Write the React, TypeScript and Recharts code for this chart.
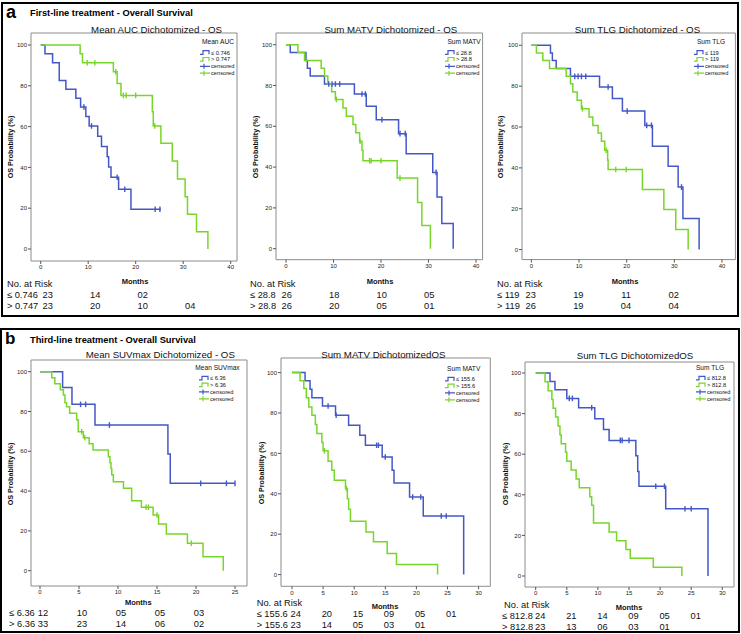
import React from 'react';
import { ComposedChart, Line, Scatter, XAxis, YAxis, ReferenceArea } from 'recharts';

const BLUE = '#4457c6';
const GREEN = '#78d62a';
const FONT = '"Liberation Sans", Arial, sans-serif';

// ---- panel a: first-line treatment (months, survival %) ----
const p1Low = [[0, 100], [0.9, 95.7], [2.5, 91.3], [3.9, 82.6], [5.3, 78.3], [7.4, 73.9], [8.4, 69.6], [9.5, 64.9], [10.2, 60.3], [12.0, 55.3], [12.8, 50.2], [14.0, 45.2], [14.3, 40.2], [14.8, 35.2], [16.4, 29.3], [19.0, 19.5], [25.3, 19.5]];
const p1LowCens = [9.1, 10.7, 16.1, 17.7, 24.1, 25.1];
const p1High = [[0, 100], [8.3, 95.7], [8.8, 91.3], [15.3, 86.9], [16.1, 81.1], [16.9, 75.3], [23.5, 67.3], [23.7, 60.3], [25.3, 51.8], [27.7, 43.1], [28.8, 34.3], [30.4, 25.6], [30.9, 17.0], [32.8, 8.5], [35.2, 0]];
const p1HighCens = [9.8, 11.4, 15.8, 17.4, 18.0, 20.0, 24.0];

const p2Low = [[0, 100], [0.9, 96.2], [4.2, 92.3], [4.5, 88.5], [5.1, 84.6], [8.1, 80.7], [14.4, 75.8], [16.9, 69.8], [19.0, 63.2], [23.7, 56.4], [25.3, 46.6], [30.9, 37.4], [31.8, 25.3], [32.8, 12.3], [35.2, 0]];
const p2LowCens = [9.0, 9.7, 10.4, 11.3, 16.0, 16.7, 20.2, 24.0, 25.1, 31.6];
const p2High = [[0, 100], [2.5, 96.2], [3.9, 92.3], [7.4, 88.5], [8.1, 84.6], [8.8, 80.8], [9.6, 76.9], [10.4, 73.1], [12.0, 69.0], [12.7, 64.9], [14.1, 60.9], [14.7, 56.8], [15.5, 52.7], [16.0, 48.2], [16.2, 43.1], [23.4, 34.6], [27.7, 22.7], [28.6, 11.4], [30.4, 0]];
const p2HighCens = [10.6, 15.6, 17.6, 17.9, 20.0, 24.0];

const p3Low = [[0, 100], [4.0, 96.2], [4.4, 92.5], [5.2, 88.6], [8.2, 84.8], [14.3, 79.6], [17.0, 73.9], [19.1, 67.8], [23.8, 60.8], [25.4, 50.6], [28.7, 40.8], [30.8, 30.6], [31.8, 15.2], [35.2, 0]];
const p3LowCens = [9.1, 9.8, 10.5, 11.4, 16.1, 20.1, 24.2, 25.2, 31.5];
const p3High = [[0, 100], [1.05, 96.2], [2.4, 92.5], [3.8, 88.6], [7.3, 84.8], [8.2, 81.2], [8.7, 77.2], [9.6, 73.1], [10.5, 69.0], [12.1, 64.9], [12.9, 60.8], [14.0, 57.1], [14.7, 53.0], [15.4, 48.6], [16.0, 43.9], [16.1, 39.2], [23.3, 29.4], [27.8, 19.6], [30.3, 9.8], [32.9, 0]];
const p3HighCens = [10.7, 15.7, 17.7, 19.9];

// ---- panel b: third-line treatment ----
const p4Low = [[0, 100], [2.9, 92.0], [4.1, 83.6], [7.05, 73.2], [16.4, 58.6], [16.7, 43.9], [25.0, 43.9]];
const p4LowCens = [5.2, 5.85, 8.9, 20.6, 23.9, 25.0];
const p4High = [[0, 100], [1.5, 97.0], [1.9, 93.9], [2.6, 90.9], [3.0, 88.3], [3.2, 84.4], [3.4, 82.4], [3.8, 79.1], [4.7, 75.8], [4.9, 69.8], [5.56, 66.8], [6.3, 63.8], [6.8, 60.7], [8.76, 57.3], [8.97, 54.3], [9.1, 51.3], [9.2, 48.2], [9.4, 44.7], [10.7, 41.4], [11.75, 35.2], [13.0, 31.9], [14.5, 28.0], [15.2, 23.5], [16.2, 18.4], [18.9, 13.8], [20.9, 7.0], [23.5, 0]];
const p4HighCens = [5.35, 5.75, 13.6, 13.9, 15.0, 19.4];

const p5Low = [[0, 100], [2.1, 96.0], [2.9, 91.8], [3.2, 87.6], [4.9, 83.5], [7.0, 78.9], [9.1, 73.9], [10.9, 69.0], [11.8, 64.0], [14.5, 58.2], [16.1, 51.6], [16.4, 45.3], [18.9, 38.4], [21.1, 29.0], [27.6, 0]];
const p5LowCens = [5.8, 7.1, 13.6, 13.9, 15.0, 19.4, 20.7, 24.0, 24.8];
const p5High = [[0, 100], [1.3, 96.0], [1.9, 92.1], [2.3, 87.6], [2.7, 83.0], [3.2, 78.9], [3.75, 74.3], [4.0, 69.9], [4.8, 65.4], [5.0, 61.3], [5.8, 56.1], [6.4, 51.7], [6.8, 46.7], [8.6, 42.6], [8.9, 37.6], [9.1, 32.4], [9.4, 26.4], [11.9, 21.1], [13.1, 16.2], [15.3, 10.4], [16.8, 5.0], [23.4, 0]];
const p5HighCens = [5.2, 8.75];

const p6Low = [[0, 100], [2.3, 95.8], [3.1, 91.7], [5.0, 87.5], [6.9, 82.9], [9.5, 77.5], [10.9, 72.2], [11.8, 66.8], [16.1, 59.2], [16.4, 51.5], [16.6, 44.2], [20.9, 33.1], [27.7, 0]];
const p6LowCens = [5.4, 5.9, 9.0, 13.6, 13.9, 15.0, 19.3, 20.7, 24.0, 25.0];
const p6High = [[0, 100], [1.5, 95.7], [2.0, 91.3], [2.6, 87.0], [2.8, 82.6], [3.2, 78.3], [3.6, 73.9], [3.9, 69.6], [4.1, 65.2], [4.8, 60.9], [5.0, 56.5], [5.7, 52.2], [6.5, 47.8], [7.0, 43.5], [8.7, 39.1], [9.0, 34.8], [9.3, 26.1], [11.8, 21.7], [13.0, 17.4], [14.5, 13.0], [15.2, 8.7], [18.9, 4.3], [23.5, 0]];
const p6HighCens: number[] = [];

// ---- titles, legend labels, numbers at risk ----
// the two last titles are drawn as they print in the source, with the dash swallowed
const titles = ['Mean AUC Dichotomized - OS', 'Sum MATV Dichotomized - OS', 'Sum TLG Dichotomized - OS', 'Mean SUVmax Dichotomized - OS', 'Sum MATV DichotomizedOS', 'Sum TLG DichotomizedOS'];
const groupNames = ['Mean AUC', 'Sum MATV', 'Sum TLG', 'Mean SUVmax', 'Sum MATV', 'Sum TLG'];
const lowLabels = ['≤ 0.746', '≤ 28.8', '≤ 119', '≤ 6.36', '≤ 155.6', '≤ 812.8'];
const highLabels = ['> 0.747', '> 28.8', '> 119', '> 6.36', '> 155.6', '> 812.8'];
const riskLow = [['23', '14', '02'], ['26', '18', '10', '05'], ['23', '19', '11', '02'], ['12', '10', '05', '05', '03'], ['24', '20', '15', '09', '05', '01'], ['24', '21', '14', '09', '05', '01']];
const riskHigh = [['23', '20', '10', '04'], ['26', '20', '05', '01'], ['26', '19', '04', '04'], ['33', '23', '14', '06', '02'], ['23', '14', '05', '03', '01'], ['23', '13', '06', '03', '01']];
const ticksA = [0, 10, 20, 30, 40];
const ticksB1 = [0, 5, 10, 15, 20, 25];
const ticksB = [0, 5, 10, 15, 20, 25, 30];
const yTicks = [0, 20, 40, 60, 80, 100];

const curves = [
  [p1Low, p1LowCens, p1High, p1HighCens],
  [p2Low, p2LowCens, p2High, p2HighCens],
  [p3Low, p3LowCens, p3High, p3HighCens],
  [p4Low, p4LowCens, p4High, p4HighCens],
  [p5Low, p5LowCens, p5High, p5HighCens],
  [p6Low, p6LowCens, p6High, p6HighCens],
] as any[];

// layout in page pixels
const layout = [
  { box: { l: 31, t: 33, r: 237, b: 261 }, x0: 40.7, ppm: 4.75, y0: 249, y100: 45, xTicks: ticksA, step: 10, title: [156.5, 29], yLab: [10, 147], months: [135, 281], noRisk: [7, 284], rowX: 7, rowY: [295, 306], off: 7, legX: 200, legTX: 218, legY: 41.7 },
  { box: { l: 275.7, t: 33.3, r: 482.3, b: 260 }, x0: 285.7, ppm: 4.75, y0: 249, y100: 45, xTicks: ticksA, step: 10, title: [390.8, 29], yLab: [255, 147], months: [380, 281], noRisk: [250, 284], rowX: 250, rowY: [295, 306], off: 1, legX: 445, legTX: 464, legY: 41.7 },
  { box: { l: 522.3, t: 32.7, r: 735.7, b: 259.3 }, x0: 531.7, ppm: 4.765, y0: 249.3, y100: 45, xTicks: ticksA, step: 10, title: [637.5, 29], yLab: [500.7, 147], months: [625, 281], noRisk: [497, 284], rowX: 497, rowY: [295, 306], off: -1, legX: 694, legTX: 711, legY: 41.7 },
  { box: { l: 31, t: 360, r: 247, b: 586 }, x0: 40, ppm: 7.8, y0: 570.7, y100: 371.7, xTicks: ticksB1, step: 5, title: [160.3, 354], yLab: [10, 474], months: [138.3, 602.7], noRisk: null, rowX: 9, rowY: [613, 624], off: 3, legX: 199, legTX: 217.5, legY: 367.3 },
  { box: { l: 280.7, t: 357.7, r: 490, b: 586 }, x0: 291.7, ppm: 6.22, y0: 574.3, y100: 372.3, xTicks: ticksB, step: 5, title: [383.3, 354], yLab: [261.7, 473], months: [385, 606], noRisk: [256.7, 602.7], rowX: 256.7, rowY: [614, 625], off: 4, legX: 445, legTX: 463.7, legY: 368.3 },
  { box: { l: 525, t: 361.7, r: 734, b: 586.7 }, x0: 535.7, ppm: 6.22, y0: 575.7, y100: 372.7, xTicks: ticksB, step: 5, title: [635, 355], yLab: [505.7, 474], months: [629, 607], noRisk: [504, 605], rowX: 502, rowY: [615.7, 626.7], off: 4.5, legX: 696, legTX: 710, legY: 367.3 },
];

const toRows = (c: number[][]) => c.map(([t, s]) => ({ t, s }));
const atTime = (c: number[][], t: number) => {
  let s = c[0][1];
  for (const [ct, cs] of c) if (ct <= t) s = cs;
  return s;
};
const censRows = (c: number[][], times: number[]) => times.map((t) => ({ t, s: atTime(c, t) }));

const censorShape = (color: string) => (p: any) => (
  <path d={`M${p.cx},${p.cy - 2.8}V${p.cy + 2.8}`} stroke={color} strokeWidth={1.4} fill="none" />
);

const YW = 24;
const MT = 4;
const MR = 4;
const XH = 16;

function KMChart({ idx }: { idx: number }) {
  const L = layout[idx];
  const [low, lowC, high, highC] = curves[idx];
  const ppy = (L.y0 - L.y100) / 100;
  const xmin = (L.box.l - L.x0) / L.ppm;
  const xmax = (L.box.r - L.x0) / L.ppm;
  const ymin = (L.y0 - L.box.b) / ppy;
  const ymax = (L.y0 - L.box.t) / ppy;
  const w = L.box.r - L.box.l + YW + MR;
  const h = L.box.b - L.box.t + MT + XH;
  const tickStyle = { fontSize: 6, fill: '#222', fontFamily: FONT };
  return (
    <div style={{ position: 'absolute', left: L.box.l - YW, top: L.box.t - MT }}>
      <ComposedChart width={w} height={h} margin={{ top: MT, right: MR, bottom: 0, left: 0 }}>
        <XAxis dataKey="t" type="number" domain={[xmin, xmax]} ticks={L.xTicks} allowDataOverflow interval={0}
          axisLine={false} tickSize={3} tickMargin={1} tick={tickStyle} stroke="#555" height={XH} />
        <YAxis type="number" domain={[ymin, ymax]} ticks={yTicks} allowDataOverflow interval={0}
          axisLine={false} tickSize={3} tickMargin={1} tick={tickStyle} stroke="#555" width={YW} />
        <ReferenceArea x1={xmin} x2={xmax} y1={ymin} y2={ymax} fill="none" stroke="#8c8c8c" strokeWidth={1} ifOverflow="visible" />
        <Line data={toRows(low)} dataKey="s" type="stepAfter" stroke={BLUE} strokeWidth={1.5} dot={false} isAnimationActive={false} />
        <Line data={toRows(high)} dataKey="s" type="stepAfter" stroke={GREEN} strokeWidth={1.5} dot={false} isAnimationActive={false} />
        <Scatter data={censRows(low, lowC)} dataKey="s" fill={BLUE} shape={censorShape(BLUE)} isAnimationActive={false} />
        <Scatter data={censRows(high, highC)} dataKey="s" fill={GREEN} shape={censorShape(GREEN)} isAnimationActive={false} />
      </ComposedChart>
    </div>
  );
}

function PanelText({ idx }: { idx: number }) {
  const L = layout[idx];
  const tickX = (m: number) => L.x0 + m * L.ppm;
  const lx = L.legX;
  const ly = L.legY;
  const entries = [
    { y: ly + 10.8, kind: 'line', color: BLUE, label: lowLabels[idx] },
    { y: ly + 17.6, kind: 'line', color: GREEN, label: highLabels[idx] },
    { y: ly + 24.6, kind: 'cens', color: BLUE, label: 'censored' },
    { y: ly + 31.5, kind: 'cens', color: GREEN, label: 'censored' },
  ];
  return (
    <g fontFamily={FONT} fill="#111">
      <text x={L.title[0]} y={L.title[1]} fontSize={9.7} textAnchor="middle" dominantBaseline="central">{titles[idx]}</text>
      <text x={L.yLab[0]} y={L.yLab[1]} fontSize={7.2} fontWeight="bold" textAnchor="middle" dominantBaseline="central"
        transform={`rotate(-90 ${L.yLab[0]} ${L.yLab[1]})`}>OS Probability (%)</text>
      <text x={L.months[0]} y={L.months[1]} fontSize={7.5} fontWeight="bold" textAnchor="middle" dominantBaseline="central">Months</text>
      {L.noRisk && (
        <text x={L.noRisk[0]} y={L.noRisk[1]} fontSize={9.3} dominantBaseline="central">No. at Risk</text>
      )}
      {[riskLow[idx], riskHigh[idx]].map((row, r) => (
        <g key={r}>
          <text x={L.rowX} y={L.rowY[r]} fontSize={9.3} dominantBaseline="central">{r === 0 ? lowLabels[idx] : highLabels[idx]}</text>
          {row.map((v, i) => (
            <text key={i} x={tickX(i * L.step) + L.off} y={L.rowY[r]} fontSize={9.3} textAnchor="middle" dominantBaseline="central">{v}</text>
          ))}
        </g>
      ))}
      <text x={L.legTX} y={ly} fontSize={6.6} textAnchor="middle" dominantBaseline="central">{groupNames[idx]}</text>
      {entries.map((e, i) => (
        <g key={i}>
          {e.kind === 'line' ? (
            <path d={`M${lx},${e.y + 1.8}H${lx + 3}V${e.y - 1.8}H${lx + 9}V${e.y + 1.8}`} stroke={e.color} strokeWidth={1.2} fill="none" />
          ) : (
            <path d={`M${lx},${e.y}H${lx + 10}M${lx + 4},${e.y - 2.5}V${e.y + 2.5}`} stroke={e.color} strokeWidth={1.2} fill="none" />
          )}
          <text x={lx + 11} y={e.y} fontSize={5.7} dominantBaseline="central">{e.label}</text>
        </g>
      ))}
    </g>
  );
}

export default function App() {
  return (
    <div style={{ position: 'absolute', left: 0, top: 0, width: 741, height: 634, background: '#fff', overflow: 'hidden' }}>
      <div style={{ position: 'absolute', left: 1, top: 2, width: 738, height: 315, border: '2.5px solid #000', boxSizing: 'border-box' }} />
      <div style={{ position: 'absolute', left: 0, top: 328, width: 740, height: 305, border: '2.5px solid #000', boxSizing: 'border-box' }} />
      {layout.map((_, i) => <KMChart key={i} idx={i} />)}
      <svg width={741} height={634} style={{ position: 'absolute', left: 0, top: 0, pointerEvents: 'none' }}>
        <g fontFamily={FONT} fill="#000">
          <text x={6} y={12} fontSize={18} fontWeight="bold" dominantBaseline="central">a</text>
          <text x={30} y={13} fontSize={9.3} fontWeight="bold" dominantBaseline="central">First-line treatment - Overall Survival</text>
          <text x={5} y={338} fontSize={17} fontWeight="bold" dominantBaseline="central">b</text>
          <text x={30} y={339.5} fontSize={9.3} fontWeight="bold" dominantBaseline="central">Third-line treatment - Overall Survival</text>
        </g>
        {layout.map((_, i) => <PanelText key={i} idx={i} />)}
      </svg>
    </div>
  );
}
